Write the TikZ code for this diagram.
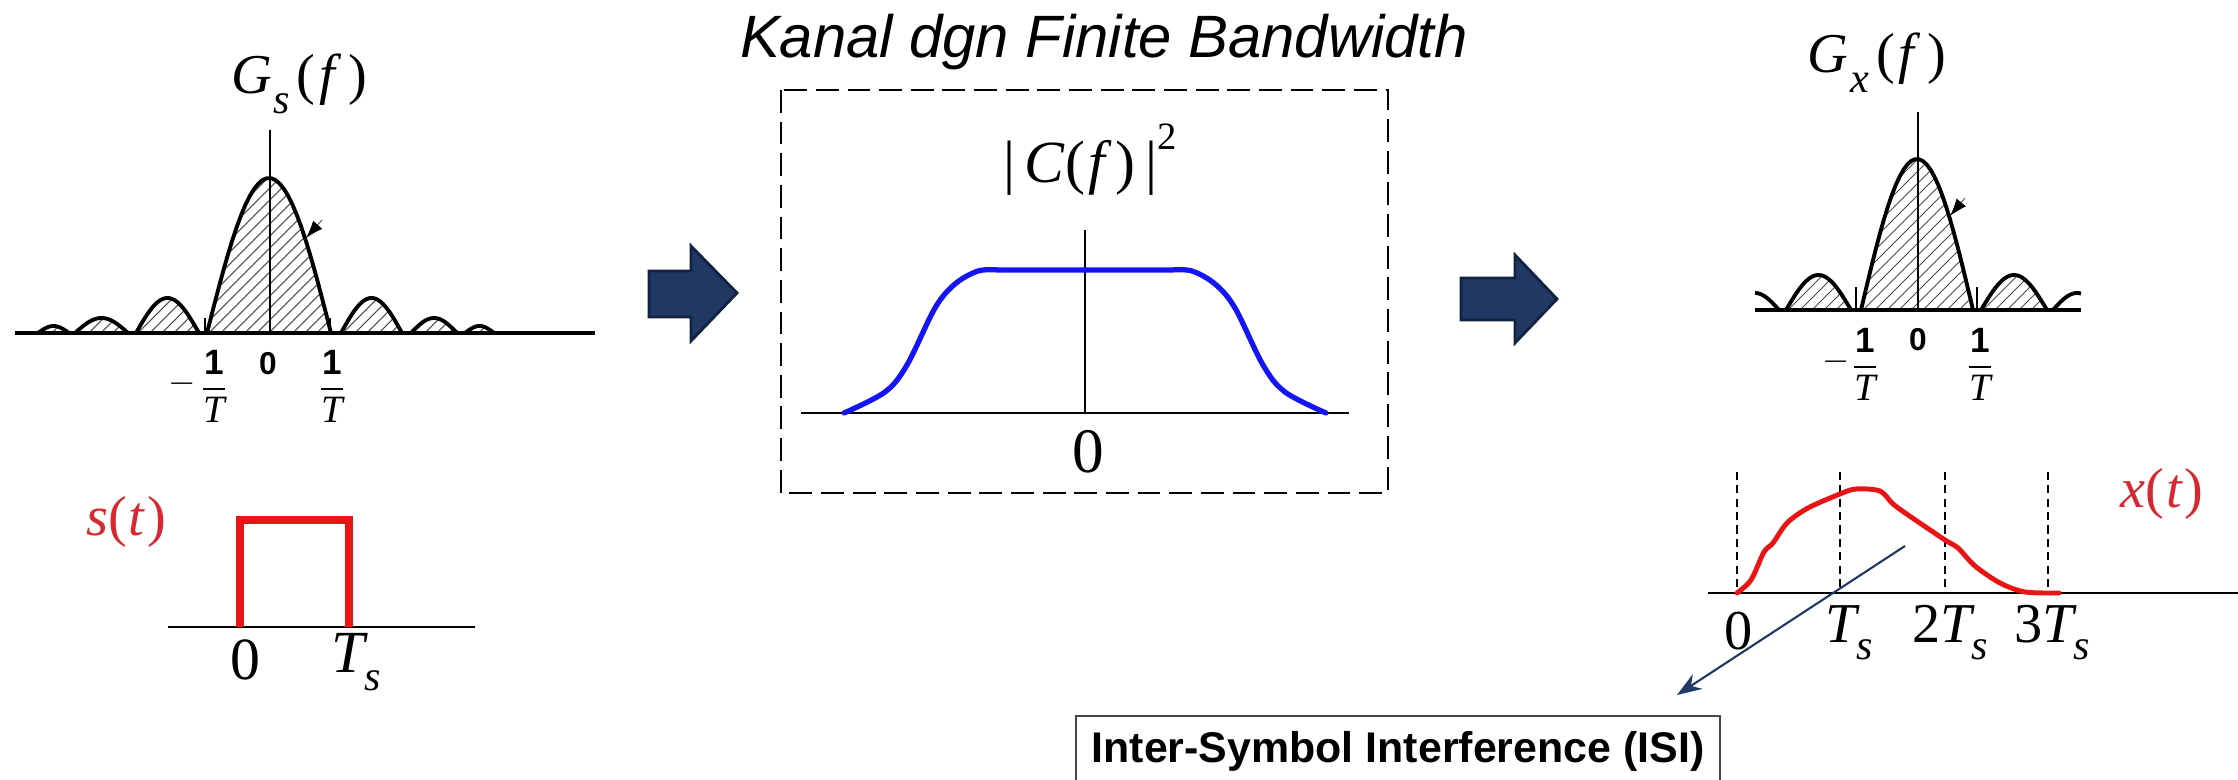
\documentclass[tikz,border=0pt]{standalone}
\usepackage{fontspec}
\setmainfont{Liberation Serif}
\newfontfamily\arial{Liberation Sans}
\usetikzlibrary{arrows.meta}
\definecolor{navy}{RGB}{31,56,100}
\definecolor{navydark}{RGB}{18,34,66}
\definecolor{chanblue}{RGB}{20,20,245}
\definecolor{sigred}{RGB}{235,20,20}
\definecolor{labred}{RGB}{215,40,50}
\definecolor{isigray}{RGB}{70,70,70}
\newcommand\fs[1]{\fontsize{#1}{#1}\selectfont}
\newcommand\hatchlobe[4]{%
  \begin{scope}
    \clip plot[domain=#1:#2,samples=30] (\x,{#4-#3*sin(180/(#2-#1)*(\x-#1))}) -- cycle;
    \foreach \k in {-168,-156,...,144} \draw[hatchline] ({#1+\k},{#4+2}) -- ++(180,-180);
  \end{scope}
  \draw[curve] plot[domain=#1:#2,samples=30] (\x,{#4-#3*sin(180/(#2-#1)*(\x-#1))});
}
\newcommand\invT{$\displaystyle\frac{\mbox{\arial\bfseries\fs{10}1}}{\mbox{\itshape\fs{11}T}}$}
\tikzset{
  curve/.style={line width=1.1pt, line join=round},
  thickaxis/.style={line width=1.3pt},
  thinaxis/.style={line width=0.5pt},
  hatchline/.style={line width=0.3pt, black!70},
  blockarrow/.style={fill=navy, draw=navydark, line width=0.8pt, line join=miter},
  dashbox/.style={line width=0.6pt, dash pattern=on 6.5pt off 2.5pt},
  gridline/.style={line width=0.5pt, dash pattern=on 2.3pt off 1.5pt},
  lab/.style={inner sep=0pt},
  ticklab/.style={inner sep=0pt, font=\fs{10}},
  marker/.style={line width=0.3pt, black!60, -{Latex[length=5pt,width=3.5pt,black]}},
}
\begin{document}
\begin{tikzpicture}[x=0.01cm,y=-0.01cm]
\clip (0,0) rectangle (2238,780);
\fill[white] (0,0) rectangle (2238,780);

% ---------- title ----------
\node[lab, anchor=base, font=\arial\itshape\fs{17}] (title) at (1104,58) {Kanal dgn Finite Bandwidth};

% ---------- G_s(f) ----------
\node[lab, font=\fs{16}] (gslab) at (299,84) {\textit{G}\kern0.5pt\raisebox{-0.35em}{\fs{12}\textit{s}}\kern2pt(\kern1pt\textit{f}\kern2pt)};
\hatchlobe{207}{331}{155}{333}
\foreach \a/\b/\h in {136/199/35, 75/128/15, 38/69/7, 341/402/35, 411/457/15, 465/494/7}
  {\hatchlobe{\a}{\b}{\h}{333}}
\draw[thinaxis] (270,130) -- (270,333);
\draw[thickaxis] (15,333) -- (595,333);
\draw[thinaxis] (205,333) -- (205,318);
\draw[thinaxis] (330,333) -- (330,318);
\draw[marker] (322,220) -- (306,238);
\node[ticklab, font=\arial\bfseries\fs{9}] (gs0) at (268,364) {0};
\node[ticklab] (gsmin) at (182,384) {$-$};
\node[ticklab] (gsneg) at (214,386) {\invT};
\node[ticklab] (gspos) at (332,386) {\invT};

% ---------- s(t) ----------
\node[lab, text=labred, font=\fs{16}] (slab) at (126,522) {\textit{s}(\kern0.5pt\textit{t}\kern0.5pt)};
\draw[thinaxis] (168,627) -- (475,627);
\draw[sigred, line width=2pt, line join=miter] (240,627) -- (240,520) -- (349,520) -- (349,627);
\node[lab, font=\fs{17}] (s0) at (245,660) {0};
\node[lab, font=\fs{17}] (sTs) at (356,662) {\textit{T}\kern-1pt\raisebox{-0.3em}{\fs{12}\textit{s}}};

% ---------- block arrows ----------
\filldraw[blockarrow] (649,271) -- (691,271) -- (691,246) -- (737,293) -- (691,341) -- (691,317) -- (649,317) -- cycle;
\filldraw[blockarrow] (1461,278) -- (1515,278) -- (1515,255) -- (1557,299) -- (1515,343) -- (1515,320) -- (1461,320) -- cycle;

% ---------- channel ----------
\draw[dashbox] (781,90) rectangle (1388,493);
\node[lab, font=\fs{17}] (clab) at (1090,160) {|\,\textit{C}(\kern1pt\textit{f}\kern1pt)\,|\raisebox{0.55em}{\fs{11}2}};
\draw[thinaxis] (1085,230) -- (1085,413);
\draw[thinaxis] (801,413) -- (1349,413);
\draw[chanblue, line width=1.5pt, line join=round, line cap=round]
  plot[smooth, tension=0.55] coordinates {(844,413) (885,392) (907,365) (935,308) (955,284) (978,271) (998,270)}
  -- (1172,270)
  -- plot[smooth, tension=0.55] coordinates {(1172,270) (1192,271) (1215,284) (1235,308) (1263,365) (1285,392) (1326,413)};
\node[lab, font=\fs{18}] (c0) at (1088,452) {0};

% ---------- G_x(f) ----------
\node[lab, font=\fs{16}] (gxlab) at (1877,63) {\textit{G}\kern0.5pt\raisebox{-0.35em}{\fs{12}\textit{x}}\kern2pt(\kern1pt\textit{f}\kern2pt)};
\hatchlobe{1861}{1973}{151}{310}
\hatchlobe{1786}{1851}{35}{310}
\hatchlobe{1981}{2047}{35}{310}
\draw[curve] plot[domain=1755:1779,samples=12] (\x,{310-17*sin(3.75*(\x-1731))});
\draw[curve] plot[domain=2053:2081,samples=12] (\x,{310-17*sin(3.75*(\x-2053))});
\draw[thinaxis] (1918,112) -- (1918,310);
\draw[thickaxis] (1755,310) -- (2081,310);
\draw[thinaxis] (1856,310) -- (1856,287);
\draw[thinaxis] (1977,310) -- (1977,287);
\draw[marker] (1965,198) -- (1950,216);
\node[ticklab, font=\arial\bfseries\fs{9}] (gx0) at (1918,340) {0};
\node[ticklab] (gxmin) at (1836,362) {$-$};
\node[ticklab] (gxneg) at (1865,364) {\invT};
\node[ticklab] (gxpos) at (1980,364) {\invT};

% ---------- x(t) ----------
\foreach \xx in {1737,1840,1945,2048} \draw[gridline] (\xx,472) -- (\xx,593);
\draw[thinaxis] (1708,593) -- (2238,593);
\draw[sigred, line width=1.4pt, line join=round, line cap=round]
  plot[smooth, tension=0.5] coordinates {(1737,593) (1751,580) (1764,552) (1773,543) (1787,523) (1808,508) (1840,494) (1856,489) (1880,491) (1893,504) (1911,517) (1945,540) (1958,548) (1975,566) (2000,583) (2025,592) (2059,593)};
\node[lab, text=labred, font=\fs{16}] (xlab) at (2162,494) {\textit{x}(\kern0.5pt\textit{t}\kern0.5pt)};
\node[lab, font=\fs{16}] (x0) at (1739,631) {0};
\node[lab, font=\fs{16}] (x1) at (1849,633) {\textit{T}\kern-1pt\raisebox{-0.3em}{\fs{12}\textit{s}}};
\node[lab, font=\fs{16}] (x2) at (1950,633) {2\textit{T}\kern-1pt\raisebox{-0.3em}{\fs{12}\textit{s}}};
\node[lab, font=\fs{16}] (x3) at (2052,633) {3\textit{T}\kern-1pt\raisebox{-0.3em}{\fs{12}\textit{s}}};

% ---------- ISI ----------
\node[draw=isigray, line width=0.6pt, minimum width=6.44cm, minimum height=0.70cm, inner sep=0pt,
      font=\arial\bfseries\fs{12.2}] (isi) at (1398,751) {Inter-Symbol Interference (ISI)};
\coordinate (isiSrc) at (1905,546);
\coordinate (isiTip) at (1677,695);
\draw[navy, line width=0.6pt, -{Stealth[length=7pt,width=5pt]}] (isiSrc) -- (isiTip);
\end{tikzpicture}
\end{document}
